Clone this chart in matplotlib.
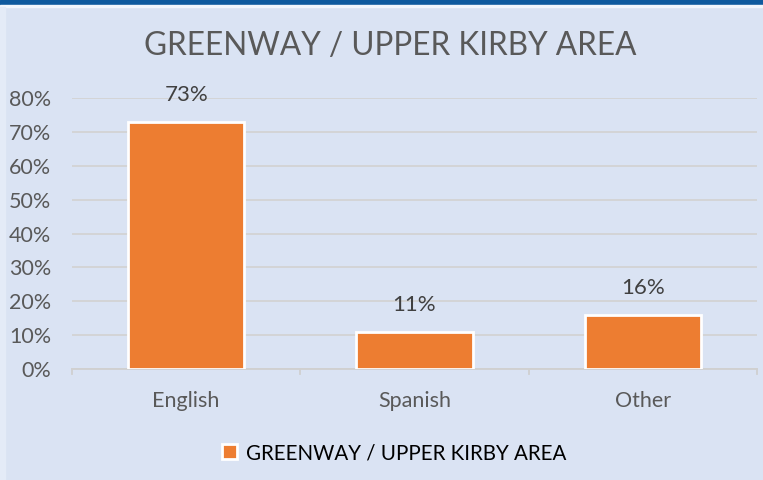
import matplotlib
matplotlib.use("Agg")
import matplotlib.pyplot as plt
from matplotlib.patches import Rectangle

categories = ["English", "Spanish", "Other"]
values = [73, 11, 16]
labels = ["73%", "11%", "16%"]
series_name = "GREENWAY / UPPER KIRBY AREA"
yticks = [0, 10, 20, 30, 40, 50, 60, 70, 80]

plt.rcParams['font.family'] = ['Lato', 'DejaVu Sans']
W, H = 763, 480
fig = plt.figure(figsize=(W/100, H/100), dpi=100)
bg = "#DAE3F3"
fig.patch.set_facecolor(bg)
# top band and left strip
fig.patches.append(Rectangle((0, 1-5/H), 1, 5/H, transform=fig.transFigure, color="#0F5A9E", zorder=0))
fig.patches.append(Rectangle((0, 1-7/H), 1, 2/H, transform=fig.transFigure, color="#F2F6FC", zorder=0))
fig.patches.append(Rectangle((0, 0), 5/W, 1-7/H, transform=fig.transFigure, color="#E4EBF7", zorder=0))

ax = fig.add_axes([72/W, 1-369/H, (757-72)/W, (369-98)/H])
ax.set_facecolor(bg)
x = list(range(len(categories)))
bars = ax.bar(x, values, width=0.51, color="#ED7D31", edgecolor="white", linewidth=2, zorder=3,
              label=series_name)
ax.set_xlim(-0.5, 2.5)
ax.set_ylim(0, 80)
ax.set_yticks(yticks)
ax.set_yticklabels([f"{t}%" for t in yticks])
ax.yaxis.grid(True, color="#D3D3D3", linewidth=1.3, zorder=0)
ax.set_axisbelow(True)
for s in ["top", "right", "left"]:
    ax.spines[s].set_visible(False)
ax.spines["bottom"].set_color("#D0D0D0")
ax.spines["bottom"].set_linewidth(1.3)
ax.tick_params(axis="y", length=0, pad=15, labelsize=15.5, labelcolor="#595959")
ax.set_xticks(x)
ax.set_xticklabels(categories)
ax.tick_params(axis="x", length=0, pad=16, labelsize=15.5, labelcolor="#595959")
for b in [-0.5, 0.5, 1.5, 2.5]:
    ax.plot([b, b], [0, -1.6], color="#D0D0D0", linewidth=1.3, clip_on=False, zorder=2)

for xi, v, lab in zip(x, values, labels):
    ax.annotate(lab, (xi, v), xytext=(0, 19), textcoords="offset points", ha="center",
                va="center", fontsize=16, color="#404040")

fig.text(390/W, 1-46/H, series_name, ha="center", va="center", fontsize=22.7, color="#595959")

leg = fig.legend(handles=[bars], labels=[series_name], loc="center", bbox_to_anchor=(394/W, 1-453/H),
                 frameon=False, fontsize=14.8, handlelength=0.75, handleheight=0.75, handletextpad=0.4)
for t in leg.get_texts():
    t.set_color("#000000")

fig.savefig("out.png", dpi=100, facecolor=bg)
